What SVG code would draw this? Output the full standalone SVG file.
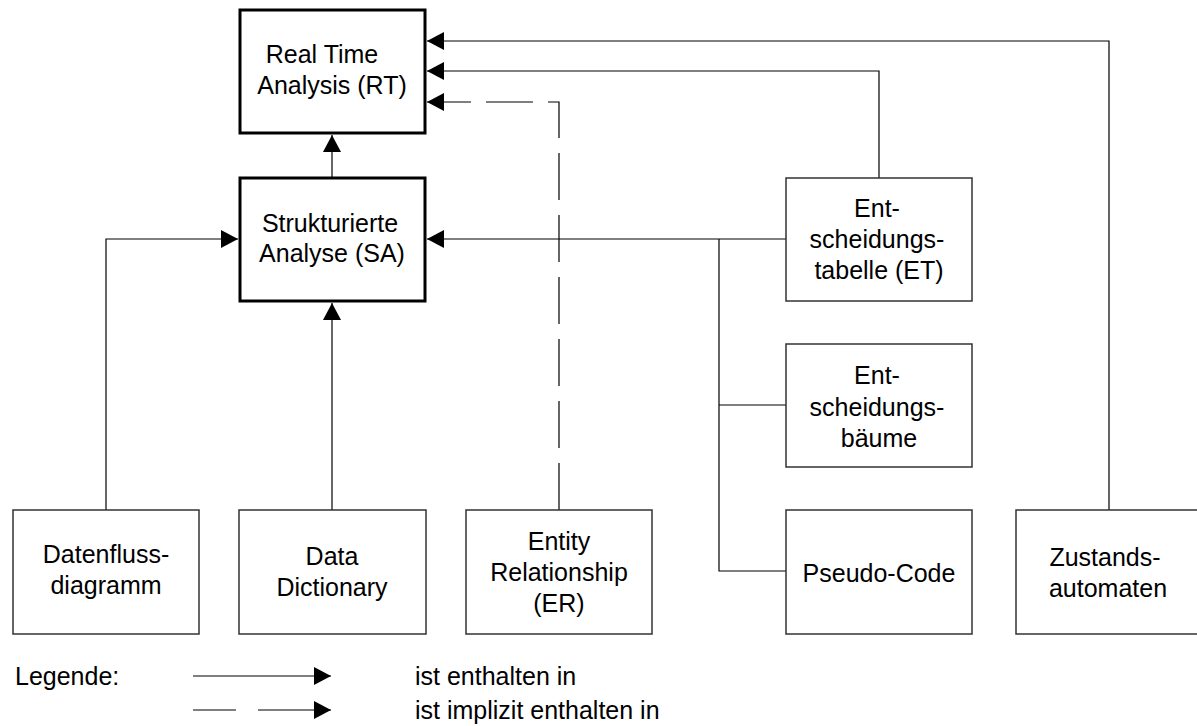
<svg xmlns="http://www.w3.org/2000/svg" width="1197" height="726" viewBox="0 0 1197 726">
<defs>
<style>
.thick{fill:#fff;stroke:#000;stroke-width:3}
.thin{fill:#fff;stroke:#333;stroke-width:1.5}
.t{font-family:"Liberation Sans",Arial,sans-serif;font-size:25px;fill:#000;text-anchor:middle}
.l{font-family:"Liberation Sans",Arial,sans-serif;font-size:25px;fill:#000}
.c{fill:none;stroke:#000;stroke-width:1.2}
.d{fill:none;stroke:#000;stroke-width:1.2;stroke-dasharray:47 15}
</style>
<marker id="ah" markerUnits="userSpaceOnUse" markerWidth="18" markerHeight="20" refX="17" refY="9" orient="auto">
<path d="M0,0 L17,9 L0,18 Z" fill="#000"/>
</marker>
</defs>
<rect width="1197" height="726" fill="#fff"/>
<g id="connectors">
<path class="c" d="M332,178 V135" marker-end="url(#ah)"/>
<path class="c" d="M106,510 V239 H238" marker-end="url(#ah)"/>
<path class="c" d="M332,510 V303" marker-end="url(#ah)"/>
<path class="c" d="M786,239 H427" marker-end="url(#ah)"/>
<path class="c" d="M719,239 V571 H786 M719,405 H786"/>
<path class="c" d="M879,178 V71 H427" marker-end="url(#ah)"/>
<path class="c" d="M1109,510 V41 H427" marker-end="url(#ah)"/>
<path class="d" d="M559,510 V102 H427" marker-end="url(#ah)"/>
</g>
<g id="rt">
<rect class="thick" x="240" y="10" width="185" height="123"/>
<text class="t" x="322" y="63">Real Time</text>
<text class="t" x="332" y="94">Analysis (RT)</text>
</g>
<g id="sa">
<rect class="thick" x="240" y="178" width="185" height="123"/>
<text class="t" x="330" y="232">Strukturierte</text>
<text class="t" x="332" y="262">Analyse (SA)</text>
</g>
<g id="dfd">
<rect class="thin" x="13" y="510" width="186" height="124"/>
<text class="t" x="106" y="563">Datenfluss-</text>
<text class="t" x="106" y="594">diagramm</text>
</g>
<g id="dd">
<rect class="thin" x="239" y="510" width="187" height="124"/>
<text class="t" x="332" y="565">Data</text>
<text class="t" x="332" y="596">Dictionary</text>
</g>
<g id="er">
<rect class="thin" x="466" y="510" width="186" height="124"/>
<text class="t" x="559" y="550">Entity</text>
<text class="t" x="559" y="581">Relationship</text>
<text class="t" x="559" y="612">(ER)</text>
</g>
<g id="et">
<rect class="thin" x="786" y="178" width="186" height="123"/>
<text class="t" x="877" y="217">Ent-</text>
<text class="t" x="877" y="248">scheidungs-</text>
<text class="t" x="879" y="279">tabelle (ET)</text>
</g>
<g id="eb">
<rect class="thin" x="786" y="344" width="186" height="123"/>
<text class="t" x="877" y="384">Ent-</text>
<text class="t" x="877" y="416">scheidungs-</text>
<text class="t" x="879" y="447">bäume</text>
</g>
<g id="pc">
<rect class="thin" x="786" y="510" width="186" height="124"/>
<text class="t" x="879" y="582">Pseudo-Code</text>
</g>
<g id="za">
<rect class="thin" x="1016" y="510" width="190" height="124"/>
<text class="t" x="1105" y="566">Zustands-</text>
<text class="t" x="1108" y="597">automaten</text>
</g>
<g id="legend">
<text class="l" x="15" y="685">Legende:</text>
<path class="c" d="M193,676 H331" marker-end="url(#ah)"/>
<path class="c" d="M193,710 H236 M258,710 H331" marker-end="url(#ah)"/>
<text class="l" x="415" y="685">ist enthalten in</text>
<text class="l" x="415" y="719">ist implizit enthalten in</text>
</g>
</svg>
